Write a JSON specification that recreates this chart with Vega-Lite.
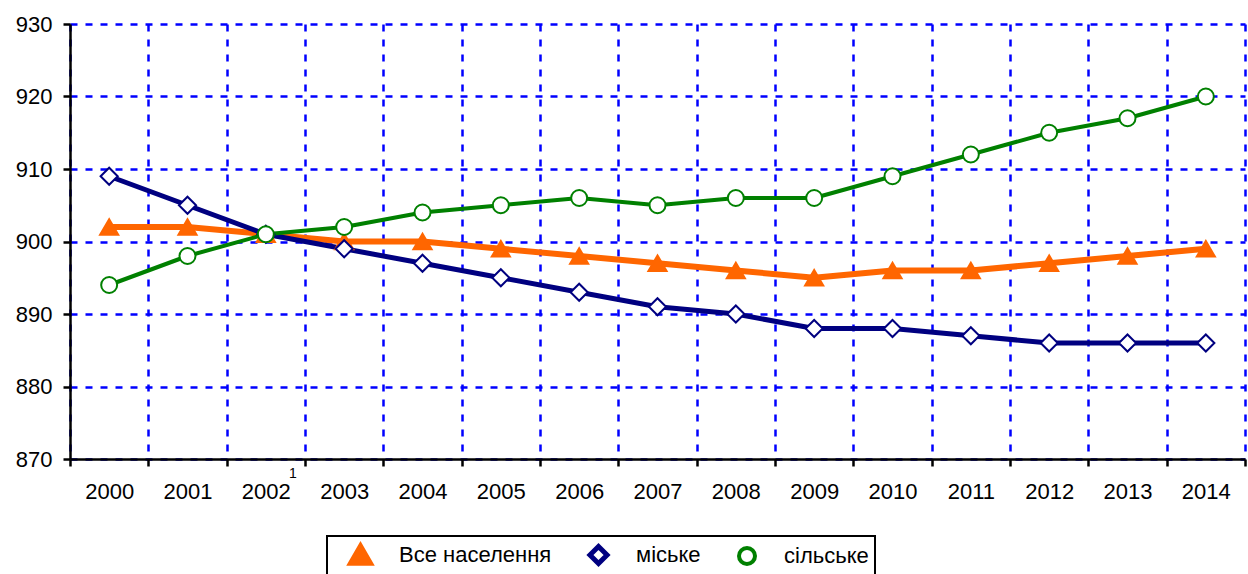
{
  "$schema": "https://vega.github.io/schema/vega-lite/v6.json",
  "width": 1175,
  "height": 435,
  "autosize": {"type": "none"},
  "padding": {"left": 70, "top": 24, "right": 3, "bottom": 115},
  "background": "white",
  "config": {"view": {"stroke": null}, "font": "Liberation Sans"},
  "data": {"values": [
    {"year": "2000", "series": "Все населення", "value": 902},
    {"year": "2001", "series": "Все населення", "value": 902},
    {"year": "2002", "series": "Все населення", "value": 901},
    {"year": "2003", "series": "Все населення", "value": 900},
    {"year": "2004", "series": "Все населення", "value": 900},
    {"year": "2005", "series": "Все населення", "value": 899},
    {"year": "2006", "series": "Все населення", "value": 898},
    {"year": "2007", "series": "Все населення", "value": 897},
    {"year": "2008", "series": "Все населення", "value": 896},
    {"year": "2009", "series": "Все населення", "value": 895},
    {"year": "2010", "series": "Все населення", "value": 896},
    {"year": "2011", "series": "Все населення", "value": 896},
    {"year": "2012", "series": "Все населення", "value": 897},
    {"year": "2013", "series": "Все населення", "value": 898},
    {"year": "2014", "series": "Все населення", "value": 899},
    {"year": "2000", "series": "міське", "value": 909},
    {"year": "2001", "series": "міське", "value": 905},
    {"year": "2002", "series": "міське", "value": 901},
    {"year": "2003", "series": "міське", "value": 899},
    {"year": "2004", "series": "міське", "value": 897},
    {"year": "2005", "series": "міське", "value": 895},
    {"year": "2006", "series": "міське", "value": 893},
    {"year": "2007", "series": "міське", "value": 891},
    {"year": "2008", "series": "міське", "value": 890},
    {"year": "2009", "series": "міське", "value": 888},
    {"year": "2010", "series": "міське", "value": 888},
    {"year": "2011", "series": "міське", "value": 887},
    {"year": "2012", "series": "міське", "value": 886},
    {"year": "2013", "series": "міське", "value": 886},
    {"year": "2014", "series": "міське", "value": 886},
    {"year": "2000", "series": "сільське", "value": 894},
    {"year": "2001", "series": "сільське", "value": 898},
    {"year": "2002", "series": "сільське", "value": 901},
    {"year": "2003", "series": "сільське", "value": 902},
    {"year": "2004", "series": "сільське", "value": 904},
    {"year": "2005", "series": "сільське", "value": 905},
    {"year": "2006", "series": "сільське", "value": 906},
    {"year": "2007", "series": "сільське", "value": 905},
    {"year": "2008", "series": "сільське", "value": 906},
    {"year": "2009", "series": "сільське", "value": 906},
    {"year": "2010", "series": "сільське", "value": 909},
    {"year": "2011", "series": "сільське", "value": 912},
    {"year": "2012", "series": "сільське", "value": 915},
    {"year": "2013", "series": "сільське", "value": 917},
    {"year": "2014", "series": "сільське", "value": 920}
  ]},
  "layer": [
    {
      "mark": {"type": "line", "strokeJoin": "round"},
      "encoding": {
        "x": {
          "field": "year", "type": "ordinal", "bandPosition": 0.5,
          "scale": {"type": "band", "paddingInner": 0, "paddingOuter": 0},
          "axis": {
            "title": null, "labelAngle": 0, "tickBand": "extent",
            "domainColor": "black", "domainWidth": 2.5,
            "tickColor": "black", "tickWidth": 2.5, "tickSize": 7,
            "labelFontSize": 22, "labelColor": "black", "labelPadding": 15,
            "labelFont": "Liberation Sans",
            "grid": true, "gridColor": "#0000FF", "gridDash": [7, 8], "gridWidth": 2.5
          }
        },
        "y": {
          "field": "value", "type": "quantitative",
          "scale": {"domain": [870, 930], "nice": false, "zero": false},
          "axis": {
            "title": null, "values": [870, 880, 890, 900, 910, 920, 930],
            "domainColor": "black", "domainWidth": 2.5,
            "tickColor": "black", "tickWidth": 2.5, "tickSize": 7,
            "labelFontSize": 22, "labelColor": "black", "labelPadding": 11,
            "labelFont": "Liberation Sans",
            "grid": true, "gridColor": "#0000FF", "gridDash": [7, 8], "gridWidth": 2.5
          }
        },
        "color": {
          "field": "series", "type": "nominal",
          "scale": {"domain": ["Все населення", "міське", "сільське"], "range": ["#FF6600", "#000080", "#008000"]},
          "legend": {
            "title": null, "orient": "none", "direction": "horizontal",
            "legendX": 257, "legendY": 512,
            "padding": 6, "columnPadding": 20,
            "strokeColor": "black", "fillColor": "white",
            "labelFont": "Liberation Sans", "labelFontSize": 22, "labelColor": "black",
            "labelOffset": 26, "symbolSize": 400, "symbolOffset": 15,
            "encode": {
              "legend": {"update": {"strokeWidth": {"value": 2}}}
            }
          }
        },
        "strokeWidth": {
          "field": "series", "type": "nominal",
          "scale": {"domain": ["Все населення", "міське", "сільське"], "range": [6, 4, 5]},
          "legend": null
        }
      }
    },
    {
      "mark": {"type": "point", "filled": true, "strokeWidth": 2, "opacity": 1},
      "encoding": {
        "x": {"field": "year", "type": "ordinal", "bandPosition": 0.5},
        "y": {"field": "value", "type": "quantitative"},
        "shape": {
          "field": "series", "type": "nominal",
          "scale": {"domain": ["Все населення", "міське", "сільське"], "range": ["triangle-up", "diamond", "circle"]},
          "legend": null
        },
        "size": {
          "field": "series", "type": "nominal",
          "scale": {"domain": ["Все населення", "міське", "сільське"], "range": [330, 256, 280]},
          "legend": null
        },
        "fill": {
          "field": "series", "type": "nominal",
          "scale": {"domain": ["Все населення", "міське", "сільське"], "range": ["#FF6600", "#FFFFFF", "#FFFFFF"]},
          "legend": null
        },
        "stroke": {
          "field": "series", "type": "nominal",
          "scale": {"domain": ["Все населення", "міське", "сільське"], "range": ["#FF6600", "#000080", "#008000"]},
          "legend": null
        }
      }
    },
    {
      "data": {"values": [{"year": "2002", "note": "1"}]},
      "mark": {"type": "text", "fontSize": 14, "font": "Liberation Sans", "fill": "black", "dx": 27, "dy": 15, "align": "center", "baseline": "middle"},
      "encoding": {
        "x": {"field": "year", "type": "ordinal", "bandPosition": 0.5},
        "y": {"datum": 870},
        "text": {"field": "note"}
      }
    }
  ]
}
